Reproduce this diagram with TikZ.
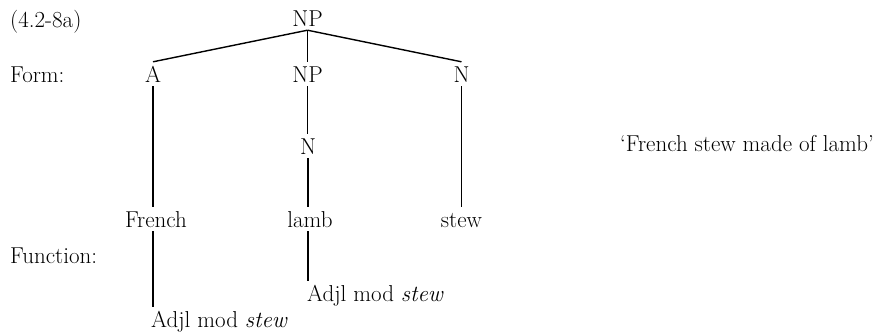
\documentclass[tikz,border=0pt]{standalone}
\usepackage{fontspec}
\begin{document}
\begin{tikzpicture}[x=1pt,y=-1pt,
  every node/.style={inner sep=0pt,font=\fontsize{23}{27}\selectfont},
  cat/.style={anchor=base,text height=20pt,text depth=4pt},
  lbl/.style={anchor=base west},
  fn/.style={anchor=base west,text height=20pt,text depth=4pt},
  branch/.style={line width=1.4pt}]
\useasboundingbox (0,0) rectangle (893,335);
% labels
\node[lbl] (ex) at (10,27) {(4.2-8a)};
\node[lbl] (form) at (10,82) {Form:};
\node[lbl] (func) at (10,263) {Function:};
\node[lbl] (gloss) at (620,151) {`French stew made of lamb'};
% tree
\node[cat] (np0) at (307.5,26) {NP};
\node[cat] (a) at (153,82) {A};
\node[cat] (np1) at (307.5,82) {NP};
\node[cat] (n1) at (461.5,82) {N};
\node[cat] (n2) at (308,154) {N};
\node[cat] (french) at (156,227) {French};
\node[cat] (lamb) at (310,227) {lamb};
\node[cat] (stew) at (461.5,227) {stew};
\node[fn] (f1) at (151,327) {Adjl mod \textit{stew}};
\node[fn] (f2) at (307,301) {Adjl mod \textit{stew}};
% connectors
\draw[branch] (np0.south) -- (a.north);
\draw[branch] (np0.south) -- (np1.north);
\draw[branch] (np0.south) -- (n1.north);
\draw[branch] (a.south) -- (a.south |- french.north);
\draw[branch] (np1.south) -- (np1.south |- n2.north);
\draw[branch] (n2.south) -- (n2.south |- lamb.north);
\draw[branch] (n1.south) -- (n1.south |- stew.north);
\draw[branch] (french.south -| a.south) -- (a.south |- f1.north);
\draw[branch] (lamb.south -| n2.south) -- (n2.south |- f2.north);
\end{tikzpicture}
\end{document}
